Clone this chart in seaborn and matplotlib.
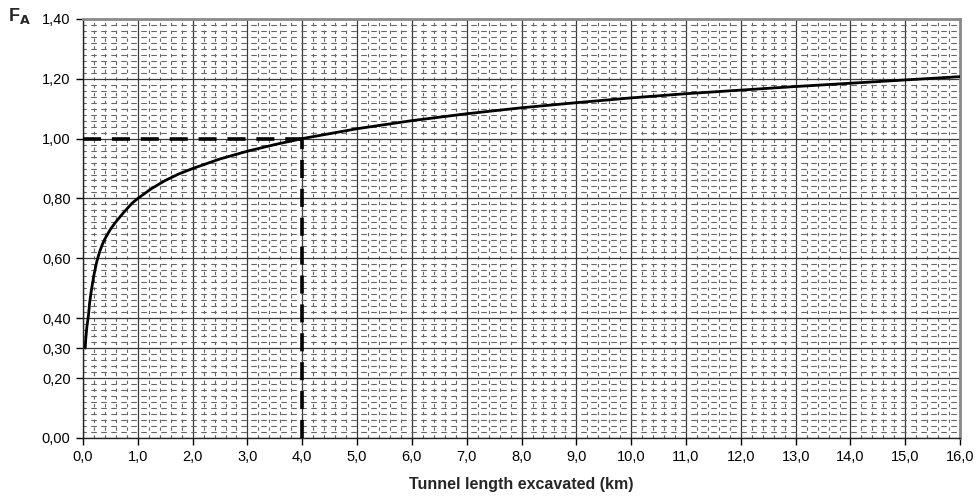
import matplotlib
matplotlib.use("Agg")
import matplotlib.pyplot as plt
import matplotlib.ticker as mticker
import seaborn as sns
import pandas as pd
import numpy as np

# Adjustment factor F_A against excavated tunnel length
length_km = [0.04, 0.05, 0.07, 0.10, 0.12, 0.15, 0.20, 0.25, 0.30, 0.35, 0.40,
             0.50, 0.60, 0.75, 0.90, 1.0, 1.25, 1.5, 1.75, 2.0, 2.5, 3.0, 3.5,
             4.0, 5.0, 6.0, 7.0, 8.0, 9.0, 10.0, 11.0, 12.0, 13.0, 14.0, 15.0, 16.0]
factor_fa = [0.30, 0.33, 0.37, 0.41, 0.45, 0.49, 0.545, 0.588, 0.620, 0.645, 0.665,
             0.697, 0.722, 0.755, 0.785, 0.800, 0.833, 0.860, 0.882, 0.900, 0.932,
             0.958, 0.980, 1.000, 1.033, 1.060, 1.083, 1.103, 1.120, 1.136, 1.150,
             1.162, 1.174, 1.185, 1.196, 1.207]

# Reference length and factor highlighted with dashed guides
ref_length = 4.0
ref_factor = 1.0

x_ticks = list(np.arange(0, 17, 1.0))
y_ticks = [0.0, 0.2, 0.3, 0.4, 0.6, 0.8, 1.0, 1.2, 1.4]

sns.set_theme(style="white")
plt.rcParams["font.family"] = ["Liberation Sans", "DejaVu Sans"]

fig = plt.figure(figsize=(9.8, 4.97), dpi=100)
ax = fig.add_axes([0.0847, 0.119, 0.895, 0.843])

df = pd.DataFrame({"L": length_km, "F": factor_fa})

# Minor dashed grid
ax.set_xticks(np.arange(0, 16.01, 0.2), minor=True)
ax.set_yticks(np.arange(0, 1.401, 0.02), minor=True)
ax.grid(which="minor", axis="x", color="#666666", linewidth=0.8,
        linestyle=(0, (3, 4)))
ax.grid(which="minor", axis="y", color="#666666", linewidth=0.8,
        linestyle=(2, (5, 4)))
ax.grid(which="major", color="#3a3a3a", linewidth=0.9, linestyle="-")
ax.set_axisbelow(True)

sns.lineplot(data=df, x="L", y="F", ax=ax, color="black", linewidth=2.0,
             sort=True, zorder=5)
ax.lines[-1].set_solid_joinstyle("round")

# Dashed guides to the reference point
ax.plot([0, ref_length], [ref_factor, ref_factor], color="black",
        linewidth=2.6, linestyle=(0, (5, 3)), zorder=6)
ax.plot([ref_length, ref_length], [0, ref_factor], color="black",
        linewidth=2.6, linestyle=(0, (5, 3)), zorder=6)

ax.set_xlim(0, 16)
ax.set_ylim(0, 1.4)
ax.set_xticks(x_ticks)
ax.set_yticks(y_ticks)
ax.xaxis.set_major_formatter(mticker.FuncFormatter(lambda v, p: f"{v:.1f}".replace(".", ",")))
ax.yaxis.set_major_formatter(mticker.FuncFormatter(lambda v, p: f"{v:.2f}".replace(".", ",")))
ax.tick_params(axis="both", which="major", length=5, width=1, color="black",
               labelsize=10.5, direction="out", pad=4, colors="black")
ax.tick_params(which="minor", length=0)
ax.tick_params(axis="x", bottom=True)
ax.tick_params(axis="y", left=True)

for side in ("left", "bottom"):
    ax.spines[side].set_color("#222222")
    ax.spines[side].set_linewidth(1.0)
for side in ("top", "right"):
    ax.spines[side].set_color("#8a8a8a")
    ax.spines[side].set_linewidth(2.0)

ax.set_xlabel("Tunnel length excavated (km)", fontsize=11.5, fontweight="bold",
              labelpad=9)
ax.set_ylabel("")
fig.text(0.008, 0.968, r"F$_\mathbf{A}$", fontsize=13, fontweight="bold",
         ha="left", va="center")

fig.savefig("out.png", dpi=100)
